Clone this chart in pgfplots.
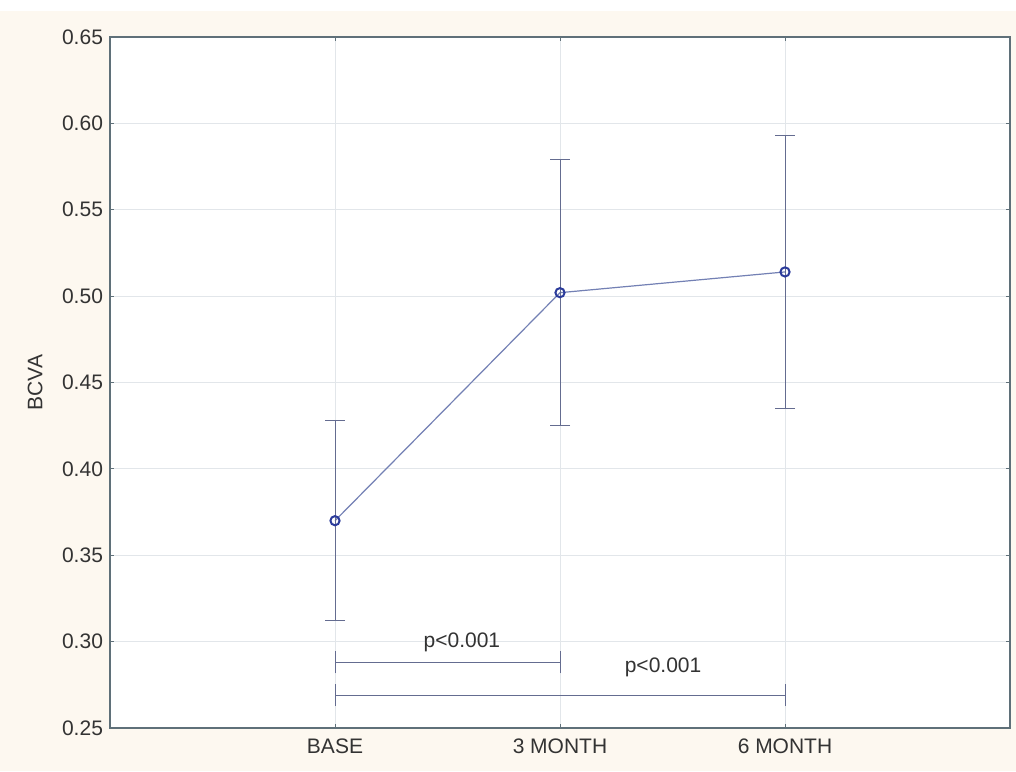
\documentclass[border=0pt]{standalone}
\usepackage{pgfplots}
\pgfplotsset{compat=1.18}
\usepackage{fontspec}
\setmainfont{Liberation Sans}
\definecolor{cream}{HTML}{FDF8F0}
\definecolor{axcol}{HTML}{5F7079}
\definecolor{gridc}{HTML}{E2E6EA}
\definecolor{linec}{HTML}{7380B4}
\definecolor{errc}{HTML}{646C90}
\definecolor{markc}{HTML}{2B3B9B}
\definecolor{txt}{HTML}{333333}
\newcommand{\lblfont}{\fontsize{10.5}{12.5}\selectfont}
\begin{document}
\begin{tikzpicture}
\fill[white] (-55pt,-21.5pt) rectangle (453pt,364pt);
\fill[cream] (-55pt,-21.5pt) rectangle (453pt,358.5pt);
\begin{axis}[
  scale only axis, width=450pt, height=345.5pt,
  xmin=0, xmax=4, ymin=0.25, ymax=0.65,
  xtick={1,2,3}, xticklabels={BASE,3 MONTH,6 MONTH},
  ytick={0.25,0.30,...,0.66},
  yticklabel style={xshift=0pt, /pgf/number format/fixed, /pgf/number format/fixed zerofill, /pgf/number format/precision=2},
  /pgf/number format/assume math mode=true,
  ticklabel style={font=\lblfont, text=txt},
  xticklabel style={yshift=-2pt},
  ylabel={BCVA},
  ylabel style={font=\lblfont, text=txt, at={(axis description cs:-0.0833,0.5)}, anchor=center},
  axis line style={axcol, line width=0.8pt},
  tick style={axcol, line width=0.5pt},
  tick align=inside, major tick length=2pt,
  grid=major, major grid style={gridc, line width=0.5pt},
  axis background/.style={fill=white},
  clip=false,
]
\addplot[linec, line width=0.6pt, mark=o, mark size=2.3pt,
  mark options={markc, line width=1pt, fill=white},
  error bars/.cd, y dir=both, y explicit,
  error bar style={errc, line width=0.5pt},
  error mark options={errc, line width=0.5pt, mark size=5pt, rotate=90}]
  coordinates {
    (1,0.370) +- (0,0.058)
    (2,0.502) +- (0,0.077)
    (3,0.514) +- (0,0.079)
  };
\draw[errc, line width=0.5pt] (axis cs:1,0.288) -- (axis cs:2,0.288);
\draw[errc, line width=0.5pt] ([yshift=-5.5pt]axis cs:1,0.288) -- ([yshift=5.5pt]axis cs:1,0.288);
\draw[errc, line width=0.5pt] ([yshift=-5.5pt]axis cs:2,0.288) -- ([yshift=5.5pt]axis cs:2,0.288);
\draw[errc, line width=0.5pt] (axis cs:1,0.269) -- (axis cs:3,0.269);
\draw[errc, line width=0.5pt] ([yshift=-5.5pt]axis cs:1,0.269) -- ([yshift=5.5pt]axis cs:1,0.269);
\draw[errc, line width=0.5pt] ([yshift=-5.5pt]axis cs:3,0.269) -- ([yshift=5.5pt]axis cs:3,0.269);
\node[text=txt, font=\lblfont] at (axis cs:1.564,0.2995) {p<0.001};
\node[text=txt, font=\lblfont] at (axis cs:2.458,0.2850) {p<0.001};
\end{axis}
\end{tikzpicture}
\end{document}
